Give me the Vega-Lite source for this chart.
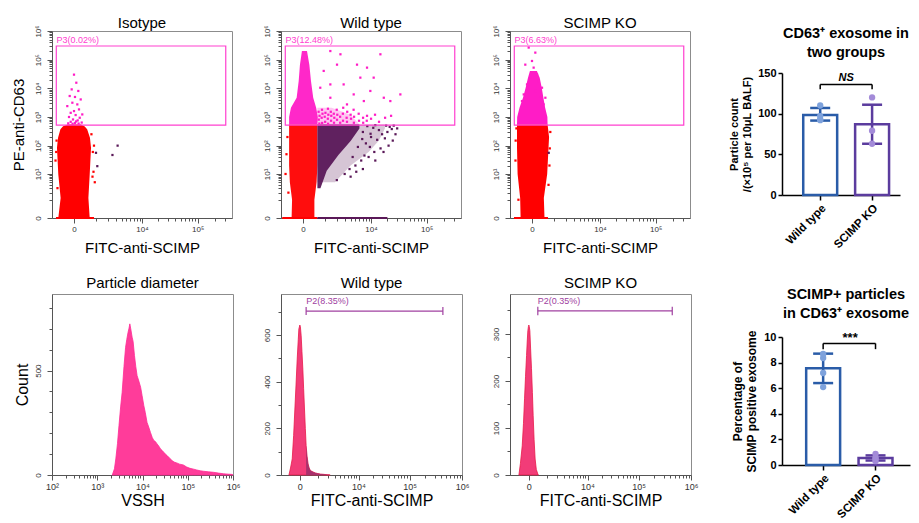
{
"$schema":"https://vega.github.io/schema/vega-lite/v6.json",
"padding":{"left":10,"top":15,"right":2,"bottom":2},
"config":{"font":"Liberation Sans","view":{"stroke":"#8c8c8c","strokeWidth":1},"axis":{"grid":false},"title":{"fontWeight":"normal","color":"#000"}},
"resolve":{"scale":{"color":"independent","fill":"independent","stroke":"independent"}},
"datasets":{
"iso_area":[
{"gate":"Neg","y":0,"x":-606,"x2":606},{"gate":"Neg","y":1.2,"x":-490,"x2":540},{"gate":"Neg","y":9.5,"x":-606,"x2":606},{"gate":"Neg","y":84,"x":-677,"x2":677},{"gate":"Neg","y":190,"x":-620,"x2":620},{"gate":"Neg","y":370,"x":-500,"x2":480},{"gate":"Neg","y":480,"x":-380,"x2":360},{"gate":"Neg","y":550,"x":-200,"x2":220}],
"iso_pts":[
{"gate":"P3","x":0,"y":30000},{"gate":"P3","x":67,"y":15700},{"gate":"P3","x":-67,"y":9200},{"gate":"P3","x":130,"y":8100},{"gate":"P3","x":-130,"y":5400},{"gate":"P3","x":28,"y":5000},{"gate":"P3","x":213,"y":4100},{"gate":"P3","x":-47,"y":3150},{"gate":"P3","x":98,"y":2750},{"gate":"P3","x":-213,"y":2400},{"gate":"P3","x":153,"y":1840},{"gate":"P3","x":0,"y":1610},{"gate":"P3","x":-98,"y":1400},{"gate":"P3","x":272,"y":1230},{"gate":"P3","x":47,"y":1170},{"gate":"P3","x":-153,"y":1000},{"gate":"P3","x":178,"y":940},{"gate":"P3","x":-28,"y":820},{"gate":"P3","x":110,"y":760},{"gate":"P3","x":-98,"y":680},{"gate":"P3","x":250,"y":640},{"gate":"P3","x":28,"y":620},{"gate":"P3","x":60,"y":700},{"gate":"P3","x":-40,"y":580},{"gate":"P3","x":140,"y":590},{"gate":"P3","x":-180,"y":600},
{"gate":"Q","x":3300,"y":100},{"gate":"Q","x":2550,"y":47},{"gate":"Q","x":1070,"y":19},{"gate":"Q","x":980,"y":56},
{"gate":"Neg","x":-760,"y":30},{"gate":"Neg","x":780,"y":60},{"gate":"Neg","x":820,"y":12},{"gate":"Neg","x":-700,"y":150},{"gate":"Neg","x":700,"y":250},{"gate":"Neg","x":900,"y":5},{"gate":"Neg","x":-650,"y":3},{"gate":"Neg","x":850,"y":100},{"gate":"Neg","x":-720,"y":60},{"gate":"Neg","x":760,"y":8}],
"iso_base":[{"gate":"Neg","x":-733,"x2":853,"y":0}],
"gate3":[{"x":-715,"x2":313000,"y":520,"y2":300000}],
"iso_lab":[{"x":-700,"y":300000,"label":"P3(0.02%)"}],
"wt_halo":[
{"gate":"P3","y":550,"x":540,"x2":6000},{"gate":"P3","y":1200,"x":540,"x2":4000},{"gate":"P3","y":2100,"x":540,"x2":1500},
{"gate":"Q","y":5,"x":540,"x2":1800},{"gate":"Q","y":20,"x":540,"x2":4000},{"gate":"Q","y":60,"x":540,"x2":9000},{"gate":"Q","y":150,"x":540,"x2":14000},{"gate":"Q","y":400,"x":540,"x2":18000},{"gate":"Q","y":550,"x":540,"x2":18000}],
"wt_area":[
{"gate":"Neg","y":0,"x":-400,"x2":400},{"gate":"Neg","y":1,"x":-380,"x2":400},{"gate":"Neg","y":5,"x":-480,"x2":500},{"gate":"Neg","y":20,"x":-515,"x2":540},{"gate":"Neg","y":550,"x":-515,"x2":540},
{"gate":"P3","y":550,"x":-515,"x2":540},{"gate":"P3","y":1000,"x":-515,"x2":560},{"gate":"P3","y":2100,"x":-430,"x2":480},{"gate":"P3","y":4700,"x":-200,"x2":350},{"gate":"P3","y":18000,"x":-130,"x2":260},{"gate":"P3","y":67000,"x":-90,"x2":200},{"gate":"P3","y":200000,"x":-30,"x2":120},
{"gate":"Q","y":3,"x":540,"x2":700},{"gate":"Q","y":13,"x":540,"x2":1100},{"gate":"Q","y":48,"x":540,"x2":2200},{"gate":"Q","y":144,"x":540,"x2":4000},{"gate":"Q","y":400,"x":540,"x2":6000},{"gate":"Q","y":550,"x":540,"x2":6000}],
"wt_pts":[
{"gate":"P3","x":640,"y":590},{"gate":"P3","x":610,"y":810},{"gate":"P3","x":650,"y":1100},{"gate":"P3","x":600,"y":1520},{"gate":"P3","x":800,"y":620},{"gate":"P3","x":770,"y":940},{"gate":"P3","x":820,"y":1300},{"gate":"P3","x":790,"y":1790},{"gate":"P3","x":990,"y":680},{"gate":"P3","x":960,"y":1020},{"gate":"P3","x":1010,"y":1400},{"gate":"P3","x":1200,"y":580},{"gate":"P3","x":1180,"y":870},{"gate":"P3","x":1220,"y":1200},{"gate":"P3","x":1190,"y":1940},{"gate":"P3","x":1440,"y":740},{"gate":"P3","x":1460,"y":1100},{"gate":"P3","x":1420,"y":1520},{"gate":"P3","x":1710,"y":630},{"gate":"P3","x":1740,"y":940},{"gate":"P3","x":1690,"y":1300},{"gate":"P3","x":2020,"y":800},{"gate":"P3","x":2050,"y":1200},{"gate":"P3","x":1990,"y":1790},{"gate":"P3","x":2390,"y":630},{"gate":"P3","x":2380,"y":1020},{"gate":"P3","x":2760,"y":740},{"gate":"P3","x":2740,"y":1300},{"gate":"P3","x":2790,"y":2100},{"gate":"P3","x":3360,"y":680},{"gate":"P3","x":3300,"y":940},{"gate":"P3","x":3400,"y":1520},{"gate":"P3","x":4080,"y":870},{"gate":"P3","x":4000,"y":1200},{"gate":"P3","x":4660,"y":630},{"gate":"P3","x":4700,"y":1020},{"gate":"P3","x":4600,"y":1790},{"gate":"P3","x":5890,"y":740},{"gate":"P3","x":5800,"y":1300},{"gate":"P3","x":7060,"y":940},{"gate":"P3","x":7100,"y":630},{"gate":"P3","x":8400,"y":1100},{"gate":"P3","x":8300,"y":740},{"gate":"P3","x":10000,"y":870},{"gate":"P3","x":11860,"y":1200},{"gate":"P3","x":14060,"y":680},{"gate":"P3","x":18150,"y":940},{"gate":"P3","x":23300,"y":1100},
{"gate":"P3","x":1380,"y":4700},{"gate":"P3","x":2850,"y":13700},{"gate":"P3","x":6250,"y":23600},{"gate":"P3","x":9700,"y":8100},{"gate":"P3","x":17200,"y":4700},{"gate":"P3","x":3360,"y":2750},{"gate":"P3","x":895,"y":40500},{"gate":"P3","x":2020,"y":67000},{"gate":"P3","x":14900,"y":154000},{"gate":"P3","x":11200,"y":23600},{"gate":"P3","x":4620,"y":6140},{"gate":"P3","x":1380,"y":13700},{"gate":"P3","x":22600,"y":3600},{"gate":"P3","x":34200,"y":6140},{"gate":"P3","x":7300,"y":3600},{"gate":"P3","x":2420,"y":154000},{"gate":"P3","x":1380,"y":200000},{"gate":"P3","x":5380,"y":67000},{"gate":"P3","x":690,"y":10500},{"gate":"P3","x":8400,"y":52700},
{"gate":"Q","x":20000,"y":300},{"gate":"Q","x":25000,"y":150},{"gate":"Q","x":15000,"y":80},{"gate":"Q","x":9000,"y":40},{"gate":"Q","x":5000,"y":20},{"gate":"Q","x":3000,"y":10},{"gate":"Q","x":22000,"y":450},{"gate":"Q","x":28000,"y":250},{"gate":"Q","x":12000,"y":30},{"gate":"Q","x":7000,"y":15},{"gate":"Q","x":2000,"y":6},{"gate":"Q","x":4000,"y":8},{"gate":"Q","x":17000,"y":60},{"gate":"Q","x":30000,"y":400},{"gate":"Q","x":10000,"y":200},{"gate":"Q","x":14000,"y":350},{"gate":"Q","x":8000,"y":120},{"gate":"Q","x":19000,"y":500},{"gate":"Q","x":11000,"y":420},{"gate":"Q","x":13000,"y":160},{"gate":"Q","x":16000,"y":250},{"gate":"Q","x":12000,"y":520},{"gate":"Q","x":9500,"y":90},{"gate":"Q","x":7500,"y":45},{"gate":"Q","x":6500,"y":30},{"gate":"Q","x":24000,"y":380},{"gate":"Q","x":18000,"y":180},{"gate":"Q","x":21000,"y":100},{"gate":"Q","x":5200,"y":12},{"gate":"Q","x":3800,"y":15},{"gate":"Q","x":11500,"y":60},{"gate":"Q","x":26000,"y":500},{"gate":"Q","x":7000,"y":300},{"gate":"Q","x":8500,"y":480},{"gate":"Q","x":9800,"y":260},{"gate":"Q","x":6800,"y":170},{"gate":"Q","x":5600,"y":90},{"gate":"Q","x":4400,"y":40},
{"gate":"Neg","x":-650,"y":50},{"gate":"Neg","x":-600,"y":200},{"gate":"Neg","x":-700,"y":10},{"gate":"Neg","x":-550,"y":2}],
"wt_base":[{"gate":"Neg","x":-900,"x2":540,"y":0},{"gate":"Q","x":540,"x2":20000,"y":0}],
"wt_lab":[{"x":-700,"y":300000,"label":"P3(12.48%)"}],
"ko_area":[
{"gate":"Neg","y":0,"x":-400,"x2":450},{"gate":"Neg","y":1.2,"x":-420,"x2":420},{"gate":"Neg","y":10,"x":-540,"x2":580},{"gate":"Neg","y":84,"x":-570,"x2":650},{"gate":"Neg","y":200,"x":-570,"x2":680},{"gate":"Neg","y":550,"x":-570,"x2":600},
{"gate":"P3","y":550,"x":-570,"x2":600},{"gate":"P3","y":1000,"x":-560,"x2":590},{"gate":"P3","y":2100,"x":-450,"x2":480},{"gate":"P3","y":4700,"x":-300,"x2":400},{"gate":"P3","y":10500,"x":-200,"x2":330},{"gate":"P3","y":23600,"x":-120,"x2":250},{"gate":"P3","y":40000,"x":-60,"x2":150}],
"ko_pts":[
{"gate":"P3","x":-98,"y":264000},{"gate":"P3","x":98,"y":176000},{"gate":"P3","x":-213,"y":67000},{"gate":"P3","x":47,"y":52700},{"gate":"P3","x":-47,"y":23600},{"gate":"P3","x":213,"y":18000},{"gate":"P3","x":-153,"y":13700},{"gate":"P3","x":98,"y":8100},{"gate":"P3","x":272,"y":4700},{"gate":"P3","x":-272,"y":6140},{"gate":"P3","x":410,"y":2750},{"gate":"P3","x":0,"y":90000},{"gate":"P3","x":153,"y":30700},{"gate":"P3","x":-341,"y":3600},{"gate":"P3","x":490,"y":4700},{"gate":"P3","x":341,"y":10500},
{"gate":"Q","x":660,"y":56},
{"gate":"Neg","x":-650,"y":30},{"gate":"Neg","x":720,"y":80},{"gate":"Neg","x":-640,"y":150},{"gate":"Neg","x":700,"y":20},{"gate":"Neg","x":750,"y":300},{"gate":"Neg","x":-600,"y":400},{"gate":"Neg","x":650,"y":4},{"gate":"Neg","x":-500,"y":1}],
"ko_base":[{"gate":"Neg","x":-733,"x2":623,"y":0}],
"ko_lab":[{"x":-700,"y":300000,"label":"P3(6.63%)"}],
"h5":[
{"x":2150,"n":0},{"x":2400,"n":30},{"x":2570,"n":77},{"x":2800,"n":150},{"x":3020,"n":236},{"x":3300,"n":330},{"x":3550,"n":396},{"x":3900,"n":520},{"x":4230,"n":612},{"x":4500,"n":650},{"x":4800,"n":684},{"x":5000,"n":700},{"x":5250,"n":724},{"x":5500,"n":700},{"x":5900,"n":660},{"x":6200,"n":640},{"x":6650,"n":572},{"x":7100,"n":520},{"x":7600,"n":476},{"x":8300,"n":450},{"x":9100,"n":420},{"x":9800,"n":380},{"x":10700,"n":332},{"x":11500,"n":300},{"x":12600,"n":252},{"x":13700,"n":230},{"x":15000,"n":204},{"x":16400,"n":180},{"x":17800,"n":165},{"x":19300,"n":160},{"x":21000,"n":149},{"x":23000,"n":138},{"x":25000,"n":125},{"x":27000,"n":118},{"x":29500,"n":109},{"x":32000,"n":100},{"x":35000,"n":93},{"x":40000,"n":80},{"x":45000,"n":69},{"x":50000,"n":62},{"x":57000,"n":58},{"x":66000,"n":52},{"x":80000,"n":48},{"x":95000,"n":38},{"x":112000,"n":32},{"x":135000,"n":28},{"x":158000,"n":24},{"x":190000,"n":20},{"x":222000,"n":18},{"x":290000,"n":15},{"x":370000,"n":13},{"x":480000,"n":9},{"x":615000,"n":6},{"x":780000,"n":4},{"x":940000,"n":3},{"x":1000000,"n":0}],
"h6":[
{"x":-510,"n":0},{"x":-420,"n":30},{"x":-330,"n":69},{"x":-260,"n":170},{"x":-202,"n":283},{"x":-150,"n":390},{"x":-102,"n":497},{"x":-60,"n":580},{"x":-37,"n":626},{"x":0,"n":643},{"x":20,"n":635},{"x":49,"n":597},{"x":80,"n":530},{"x":116,"n":454},{"x":150,"n":370},{"x":187,"n":283},{"x":225,"n":200},{"x":263,"n":126},{"x":310,"n":80},{"x":363,"n":47},{"x":420,"n":30},{"x":491,"n":19},{"x":650,"n":13},{"x":813,"n":9},{"x":1000,"n":6},{"x":1212,"n":4},{"x":1500,"n":3},{"x":1900,"n":1},{"x":2300,"n":0}],
"h6tail":[
{"x":263,"n":126},{"x":310,"n":80},{"x":363,"n":47},{"x":420,"n":30},{"x":491,"n":19},{"x":650,"n":13},{"x":813,"n":9},{"x":1000,"n":6},{"x":1212,"n":4},{"x":1500,"n":3},{"x":1900,"n":1},{"x":2300,"n":0}],
"h7":[
{"x":-454,"n":0},{"x":-370,"n":25},{"x":-280,"n":62},{"x":-220,"n":110},{"x":-173,"n":162},{"x":-130,"n":210},{"x":-88,"n":254},{"x":-60,"n":285},{"x":-37,"n":307},{"x":-15,"n":316},{"x":0,"n":319},{"x":15,"n":316},{"x":37,"n":307},{"x":65,"n":270},{"x":102,"n":226},{"x":140,"n":175},{"x":173,"n":126},{"x":215,"n":75},{"x":263,"n":34},{"x":320,"n":12},{"x":399,"n":2},{"x":430,"n":0}],
"g6h":[{"x":263,"x2":433000,"n":703}],
"g6c":[{"x":263,"n":686,"n2":720},{"x":433000,"n":686,"n2":720}],
"g6l":[{"x":263,"n":703,"label":"P2(8.35%)"}],
"g7h":[{"x":400,"x2":440000,"n":349}],
"g7c":[{"x":400,"n":340,"n2":358},{"x":440000,"n":340,"n2":358}],
"g7l":[{"x":400,"n":349,"label":"P2(0.35%)"}],
"bar1":[{"group":"Wild type","mean":98.5,"lo":91.5,"hi":107},{"group":"SCIMP KO","mean":87,"lo":63,"hi":111}],
"pts1":[{"group":"Wild type","v":93},{"group":"Wild type","v":110},{"group":"Wild type","v":97},{"group":"Wild type","v":92},{"group":"SCIMP KO","v":120},{"group":"SCIMP KO","v":79},{"group":"SCIMP KO","v":63}],
"sig1":[{"group":"Wild type","group2":"SCIMP KO","y":136,"label":"NS"}],
"drop1":[{"group":"Wild type","y":130,"y2":136},{"group":"SCIMP KO","y":130,"y2":136}],
"bar2":[{"group":"Wild type","mean":7.55,"lo":6.4,"hi":8.7},{"group":"SCIMP KO","mean":0.55,"lo":0.35,"hi":0.75}],
"pts2":[{"group":"Wild type","v":8.36},{"group":"Wild type","v":8.67},{"group":"Wild type","v":7.19},{"group":"Wild type","v":6.09},{"group":"SCIMP KO","v":0.86},{"group":"SCIMP KO","v":0.3},{"group":"SCIMP KO","v":0.55},{"group":"SCIMP KO","v":0.47}],
"sig2":[{"group":"Wild type","group2":"SCIMP KO","y":9.5,"label":"***"}],
"drop2":[{"group":"Wild type","y":9.05,"y2":9.5},{"group":"SCIMP KO","y":9.05,"y2":9.5}],
"blank":[{"t":""}]
},
"spacing":29,
"hconcat":[
{"spacing":21,"hconcat":[
{"spacing":19,"vconcat":[
{"width":180,"height":187,
"title":{"text":"Isotype","fontSize":15,"offset":-6,"anchor":"middle"},
"encoding":{
"x":{"field":"x","type":"quantitative","scale":{"type":"symlog","constant":685,"domain":[-980,403000],"nice":false},"axis":{"title":"FITC-anti-SCIMP","titleFontSize":15,"titleFontWeight":"normal","titleColor":"#000","titlePadding":7,"values":[0,1000,2000,3000,4000,5000,6000,7000,8000,9000,10000,20000,30000,40000,50000,60000,70000,80000,90000,100000,200000,300000],"labelExpr":"datum.value === 0 ? '0' : datum.value === 10000 ? '10⁴' : datum.value === 100000 ? '10⁵' : ''","labelFontSize":8,"labelColor":"#333","labelFlush":false,"labelOverlap":false,"labelPadding":2,"tickSize":{"condition":{"test":"indexof([0,10000,100000], datum.value) >= 0","value":5},"value":3},"tickColor":"#555","domainColor":"#555"}},
"y":{"field":"y","type":"quantitative","scale":{"type":"symlog","constant":0.3,"domain":[0,1000000],"nice":false},"axis":{"title":"PE-anti-CD63","titleFontSize":15,"titleFontWeight":"normal","titleColor":"#000","titlePadding":8,"values":[0,1,2,3,4,5,6,7,8,9,10,20,30,40,50,60,70,80,90,100,200,300,400,500,600,700,800,900,1000,2000,3000,4000,5000,6000,7000,8000,9000,10000,20000,30000,40000,50000,60000,70000,80000,90000,100000,200000,300000,400000,500000,600000,700000,800000,900000,1000000],"labelExpr":"datum.value === 0 ? '0' : datum.value === 10 ? '10¹' : datum.value === 100 ? '10²' : datum.value === 1000 ? '10³' : datum.value === 10000 ? '10⁴' : datum.value === 100000 ? '10⁵' : datum.value === 1000000 ? '10⁶' : ''","labelAngle":-90,"labelFontSize":8,"labelColor":"#333","labelFlush":false,"labelOverlap":false,"labelPadding":5,"tickSize":{"condition":{"test":"indexof([0,10,100,1000,10000,100000,1000000], datum.value) >= 0","value":5},"value":3},"tickColor":"#555","domainColor":"#555"}}
},
"layer":[
{"data":{"name":"iso_area"},"mark":{"type":"area","orient":"horizontal"},"encoding":{"x2":{"field":"x2"},"color":{"field":"gate","type":"nominal","scale":{"domain":["Neg","P3","Q"],"range":["#FF0000","#FF1CC6","#5A1858"]},"legend":null}}},
{"data":{"name":"iso_pts"},"mark":{"type":"square","size":5,"opacity":1},"encoding":{"color":{"field":"gate","type":"nominal","scale":{"domain":["Neg","P3","Q"],"range":["#FF0000","#FF1CC6","#5A1858"]},"legend":null}}},
{"data":{"name":"iso_base"},"mark":{"type":"rule","strokeWidth":2},"encoding":{"x2":{"field":"x2"},"color":{"field":"gate","type":"nominal","scale":{"domain":["Neg","P3","Q"],"range":["#FF0000","#FF1CC6","#5A1858"]},"legend":null}}},
{"data":{"name":"gate3"},"mark":{"type":"rect","filled":false,"color":"#FF40D0","strokeWidth":1.2},"encoding":{"x2":{"field":"x2"},"y2":{"field":"y2"}}},
{"data":{"name":"iso_lab"},"mark":{"type":"text","align":"left","baseline":"bottom","dy":-0.5,"fontSize":9,"color":"#FF40D0"},"encoding":{"text":{"field":"label"}}}
]},
{"width":181,"height":181,
"title":{"text":"Particle diameter","fontSize":15,"offset":3,"anchor":"middle"},
"encoding":{
"x":{"field":"x","type":"quantitative","scale":{"type":"log","domain":[100,1000000],"nice":false},"axis":{"title":"VSSH","titleFontSize":16,"titleFontWeight":"normal","titleColor":"#000","titlePadding":1,"values":[100,200,300,400,500,600,700,800,900,1000,2000,3000,4000,5000,6000,7000,8000,9000,10000,20000,30000,40000,50000,60000,70000,80000,90000,100000,200000,300000,400000,500000,600000,700000,800000,900000,1000000],"labelExpr":"datum.value === 100 ? '10²' : datum.value === 1000 ? '10³' : datum.value === 10000 ? '10⁴' : datum.value === 100000 ? '10⁵' : datum.value === 1000000 ? '10⁶' : ''","labelFontSize":9,"labelColor":"#333","labelFlush":false,"labelOverlap":false,"labelPadding":2,"tickSize":{"condition":{"test":"indexof([100,1000,10000,100000,1000000], datum.value) >= 0","value":5},"value":3},"tickColor":"#555","domainColor":"#555"}},
"y":{"field":"n","type":"quantitative","scale":{"domain":[0,867],"nice":false},"axis":{"title":"Count","titleFontSize":16,"titleFontWeight":"normal","titleColor":"#000","titlePadding":4,"values":[0,100,200,300,400,500,600,700,800],"labelExpr":"datum.value === 0 ? '0' : datum.value === 500 ? '500' : ''","labelAngle":-90,"labelFontSize":8,"labelColor":"#333","labelFlush":false,"labelOverlap":false,"labelPadding":5,"tickSize":{"condition":{"test":"datum.value === 0 || datum.value === 500","value":5},"value":3},"tickColor":"#555","domainColor":"#555"}}
},
"layer":[
{"data":{"name":"h5"},"mark":{"type":"area","color":"#FF3C9A","stroke":"#FF2A94","strokeWidth":0.8}}
]}
]},
{"spacing":19,"vconcat":[
{"width":180,"height":187,
"title":{"text":"Wild type","fontSize":15,"offset":-6,"anchor":"middle"},
"encoding":{
"x":{"field":"x","type":"quantitative","scale":{"type":"symlog","constant":685,"domain":[-980,403000],"nice":false},"axis":{"title":"FITC-anti-SCIMP","titleFontSize":15,"titleFontWeight":"normal","titleColor":"#000","titlePadding":7,"values":[0,1000,2000,3000,4000,5000,6000,7000,8000,9000,10000,20000,30000,40000,50000,60000,70000,80000,90000,100000,200000,300000],"labelExpr":"datum.value === 0 ? '0' : datum.value === 10000 ? '10⁴' : datum.value === 100000 ? '10⁵' : ''","labelFontSize":8,"labelColor":"#333","labelFlush":false,"labelOverlap":false,"labelPadding":2,"tickSize":{"condition":{"test":"indexof([0,10000,100000], datum.value) >= 0","value":5},"value":3},"tickColor":"#555","domainColor":"#555"}},
"y":{"field":"y","type":"quantitative","scale":{"type":"symlog","constant":0.3,"domain":[0,1000000],"nice":false},"axis":{"title":null,"values":[0,1,2,3,4,5,6,7,8,9,10,20,30,40,50,60,70,80,90,100,200,300,400,500,600,700,800,900,1000,2000,3000,4000,5000,6000,7000,8000,9000,10000,20000,30000,40000,50000,60000,70000,80000,90000,100000,200000,300000,400000,500000,600000,700000,800000,900000,1000000],"labelExpr":"datum.value === 0 ? '0' : datum.value === 10 ? '10¹' : datum.value === 100 ? '10²' : datum.value === 1000 ? '10³' : datum.value === 10000 ? '10⁴' : datum.value === 100000 ? '10⁵' : datum.value === 1000000 ? '10⁶' : ''","labelAngle":-90,"labelFontSize":8,"labelColor":"#333","labelFlush":false,"labelOverlap":false,"labelPadding":5,"tickSize":{"condition":{"test":"indexof([0,10,100,1000,10000,100000,1000000], datum.value) >= 0","value":5},"value":3},"tickColor":"#555","domainColor":"#555"}}
},
"layer":[
{"data":{"name":"wt_halo"},"mark":{"type":"area","orient":"horizontal","opacity":0.25},"encoding":{"x2":{"field":"x2"},"color":{"field":"gate","type":"nominal","scale":{"domain":["Neg","P3","Q"],"range":["#FF0000","#FF1CC6","#5A1858"]},"legend":null}}},
{"data":{"name":"wt_area"},"mark":{"type":"area","orient":"horizontal","opacity":0.95},"encoding":{"x2":{"field":"x2"},"color":{"field":"gate","type":"nominal","scale":{"domain":["Neg","P3","Q"],"range":["#FF0000","#FF1CC6","#5A1858"]},"legend":null}}},
{"data":{"name":"wt_pts"},"mark":{"type":"square","size":5,"opacity":1},"encoding":{"color":{"field":"gate","type":"nominal","scale":{"domain":["Neg","P3","Q"],"range":["#FF0000","#FF1CC6","#5A1858"]},"legend":null}}},
{"data":{"name":"wt_base"},"mark":{"type":"rule","strokeWidth":2},"encoding":{"x2":{"field":"x2"},"color":{"field":"gate","type":"nominal","scale":{"domain":["Neg","P3","Q"],"range":["#FF0000","#FF1CC6","#5A1858"]},"legend":null}}},
{"data":{"name":"gate3"},"mark":{"type":"rect","filled":false,"color":"#FF40D0","strokeWidth":1.2},"encoding":{"x2":{"field":"x2"},"y2":{"field":"y2"}}},
{"data":{"name":"wt_lab"},"mark":{"type":"text","align":"left","baseline":"bottom","dy":-0.5,"fontSize":9,"color":"#FF40D0"},"encoding":{"text":{"field":"label"}}}
]},
{"width":181,"height":181,
"title":{"text":"Wild type","fontSize":15,"offset":3,"anchor":"middle"},
"encoding":{
"x":{"field":"x","type":"quantitative","scale":{"type":"symlog","constant":833,"domain":[-1067,1000000],"nice":false},"axis":{"title":"FITC-anti-SCIMP","titleFontSize":16,"titleFontWeight":"normal","titleColor":"#000","titlePadding":1,"values":[0,1000,2000,3000,4000,5000,6000,7000,8000,9000,10000,20000,30000,40000,50000,60000,70000,80000,90000,100000,200000,300000,400000,500000,600000,700000,800000,900000,1000000],"labelExpr":"datum.value === 0 ? '0' : datum.value === 10000 ? '10⁴' : datum.value === 100000 ? '10⁵' : datum.value === 1000000 ? '10⁶' : ''","labelFontSize":9,"labelColor":"#333","labelFlush":false,"labelOverlap":false,"labelPadding":2,"tickSize":{"condition":{"test":"indexof([0,10000,100000,1000000], datum.value) >= 0","value":5},"value":3},"tickColor":"#555","domainColor":"#555"}},
"y":{"field":"n","type":"quantitative","scale":{"domain":[0,776],"nice":false},"axis":{"title":null,"values":[0,100,200,300,400,500,600,700],"labelExpr":"datum.value % 200 === 0 ? format(datum.value, 'd') : ''","labelAngle":-90,"labelFontSize":8,"labelColor":"#333","labelFlush":false,"labelOverlap":false,"labelPadding":5,"tickSize":{"condition":{"test":"datum.value % 200 === 0","value":5},"value":3},"tickColor":"#555","domainColor":"#555"}}
},
"layer":[
{"data":{"name":"h6"},"mark":{"type":"area","color":"#F23C78","stroke":"#E8194A","strokeWidth":0.8}},
{"data":{"name":"h6tail"},"mark":{"type":"area","color":"#A8306C"}},
{"data":{"name":"g6h"},"mark":{"type":"rule","color":"#A040A0","strokeWidth":1.2},"encoding":{"x2":{"field":"x2"}}},
{"data":{"name":"g6c"},"mark":{"type":"rule","color":"#A040A0","strokeWidth":1.2},"encoding":{"y2":{"field":"n2"}}},
{"data":{"name":"g6l"},"mark":{"type":"text","align":"left","baseline":"bottom","dy":-5,"fontSize":9,"color":"#A040A0"},"encoding":{"text":{"field":"label"}}}
]}
]},
{"spacing":19,"vconcat":[
{"width":180,"height":187,
"title":{"text":"SCIMP KO","fontSize":15,"offset":-6,"anchor":"middle"},
"encoding":{
"x":{"field":"x","type":"quantitative","scale":{"type":"symlog","constant":685,"domain":[-980,403000],"nice":false},"axis":{"title":"FITC-anti-SCIMP","titleFontSize":15,"titleFontWeight":"normal","titleColor":"#000","titlePadding":7,"values":[0,1000,2000,3000,4000,5000,6000,7000,8000,9000,10000,20000,30000,40000,50000,60000,70000,80000,90000,100000,200000,300000],"labelExpr":"datum.value === 0 ? '0' : datum.value === 10000 ? '10⁴' : datum.value === 100000 ? '10⁵' : ''","labelFontSize":8,"labelColor":"#333","labelFlush":false,"labelOverlap":false,"labelPadding":2,"tickSize":{"condition":{"test":"indexof([0,10000,100000], datum.value) >= 0","value":5},"value":3},"tickColor":"#555","domainColor":"#555"}},
"y":{"field":"y","type":"quantitative","scale":{"type":"symlog","constant":0.3,"domain":[0,1000000],"nice":false},"axis":{"title":null,"values":[0,1,2,3,4,5,6,7,8,9,10,20,30,40,50,60,70,80,90,100,200,300,400,500,600,700,800,900,1000,2000,3000,4000,5000,6000,7000,8000,9000,10000,20000,30000,40000,50000,60000,70000,80000,90000,100000,200000,300000,400000,500000,600000,700000,800000,900000,1000000],"labelExpr":"datum.value === 0 ? '0' : datum.value === 10 ? '10¹' : datum.value === 100 ? '10²' : datum.value === 1000 ? '10³' : datum.value === 10000 ? '10⁴' : datum.value === 100000 ? '10⁵' : datum.value === 1000000 ? '10⁶' : ''","labelAngle":-90,"labelFontSize":8,"labelColor":"#333","labelFlush":false,"labelOverlap":false,"labelPadding":5,"tickSize":{"condition":{"test":"indexof([0,10,100,1000,10000,100000,1000000], datum.value) >= 0","value":5},"value":3},"tickColor":"#555","domainColor":"#555"}}
},
"layer":[
{"data":{"name":"ko_area"},"mark":{"type":"area","orient":"horizontal"},"encoding":{"x2":{"field":"x2"},"color":{"field":"gate","type":"nominal","scale":{"domain":["Neg","P3","Q"],"range":["#FF0000","#FF1CC6","#5A1858"]},"legend":null}}},
{"data":{"name":"ko_pts"},"mark":{"type":"square","size":5,"opacity":1},"encoding":{"color":{"field":"gate","type":"nominal","scale":{"domain":["Neg","P3","Q"],"range":["#FF0000","#FF1CC6","#5A1858"]},"legend":null}}},
{"data":{"name":"ko_base"},"mark":{"type":"rule","strokeWidth":2},"encoding":{"x2":{"field":"x2"},"color":{"field":"gate","type":"nominal","scale":{"domain":["Neg","P3","Q"],"range":["#FF0000","#FF1CC6","#5A1858"]},"legend":null}}},
{"data":{"name":"gate3"},"mark":{"type":"rect","filled":false,"color":"#FF40D0","strokeWidth":1.2},"encoding":{"x2":{"field":"x2"},"y2":{"field":"y2"}}},
{"data":{"name":"ko_lab"},"mark":{"type":"text","align":"left","baseline":"bottom","dy":-0.5,"fontSize":9,"color":"#FF40D0"},"encoding":{"text":{"field":"label"}}}
]},
{"width":181,"height":181,
"title":{"text":"SCIMP KO","fontSize":15,"offset":3,"anchor":"middle"},
"encoding":{
"x":{"field":"x","type":"quantitative","scale":{"type":"symlog","constant":833,"domain":[-1067,1000000],"nice":false},"axis":{"title":"FITC-anti-SCIMP","titleFontSize":16,"titleFontWeight":"normal","titleColor":"#000","titlePadding":1,"values":[0,1000,2000,3000,4000,5000,6000,7000,8000,9000,10000,20000,30000,40000,50000,60000,70000,80000,90000,100000,200000,300000,400000,500000,600000,700000,800000,900000,1000000],"labelExpr":"datum.value === 0 ? '0' : datum.value === 10000 ? '10⁴' : datum.value === 100000 ? '10⁵' : datum.value === 1000000 ? '10⁶' : ''","labelFontSize":9,"labelColor":"#333","labelFlush":false,"labelOverlap":false,"labelPadding":2,"tickSize":{"condition":{"test":"indexof([0,10000,100000,1000000], datum.value) >= 0","value":5},"value":3},"tickColor":"#555","domainColor":"#555"}},
"y":{"field":"n","type":"quantitative","scale":{"domain":[0,385],"nice":false},"axis":{"title":null,"values":[0,50,100,150,200,250,300,350],"labelExpr":"datum.value % 100 === 0 ? format(datum.value, 'd') : ''","labelAngle":-90,"labelFontSize":8,"labelColor":"#333","labelFlush":false,"labelOverlap":false,"labelPadding":5,"tickSize":{"condition":{"test":"datum.value % 100 === 0","value":5},"value":3},"tickColor":"#555","domainColor":"#555"}}
},
"layer":[
{"data":{"name":"h7"},"mark":{"type":"area","color":"#F23C78","stroke":"#E8194A","strokeWidth":0.8}},
{"data":{"name":"g7h"},"mark":{"type":"rule","color":"#A040A0","strokeWidth":1.2},"encoding":{"x2":{"field":"x2"}}},
{"data":{"name":"g7c"},"mark":{"type":"rule","color":"#A040A0","strokeWidth":1.2},"encoding":{"y2":{"field":"n2"}}},
{"data":{"name":"g7l"},"mark":{"type":"text","align":"left","baseline":"bottom","dy":-5,"fontSize":9,"color":"#A040A0"},"encoding":{"text":{"field":"label"}}}
]}
]}
]},
{"spacing":8,"vconcat":[
{"width":128,"height":1,"view":{"stroke":null},"data":{"name":"blank"},"mark":{"type":"text"},"encoding":{"text":{"field":"t"}},
"title":{"text":["CD63⁺ exosome in","two groups"],"orient":"bottom","fontSize":14.5,"fontWeight":"bold","lineHeight":19,"offset":-10,"anchor":"middle"}},
{"width":118,"height":122,"view":{"stroke":null},
"encoding":{
"x":{"field":"group","type":"nominal","sort":["Wild type","SCIMP KO"],"scale":{"paddingInner":0.346,"paddingOuter":0.31,"align":0.66},"axis":{"title":null,"domain":true,"ticks":true,"labelAngle":-45,"labelAlign":"right","labelFontSize":11.5,"labelFontWeight":"bold","labelColor":"#000","tickColor":"#000","domainColor":"#000","domainWidth":1.5,"tickWidth":1.5,"tickSize":5,"labelPadding":2}},
"y":{"field":"mean","type":"quantitative","scale":{"domain":[0,150],"nice":false},"axis":{"title":["Particle count","/(×10⁵ per 10μL BALF)"],"titleFontSize":11,"titleFontWeight":"bold","titleColor":"#000","titleLineHeight":13,"titlePadding":5,"values":[0,50,100,150],"labelFontSize":11,"labelFontWeight":"bold","labelColor":"#000","tickColor":"#000","domainColor":"#000","domainWidth":1.5,"tickWidth":1.5,"tickSize":4,"labelPadding":2}}
},
"layer":[
{"data":{"name":"bar1"},"mark":{"type":"bar","fill":"white","strokeWidth":2.5},"encoding":{"stroke":{"field":"group","type":"nominal","scale":{"domain":["Wild type","SCIMP KO"],"range":["#2A5CA8","#5B3C9E"]},"legend":null}}},
{"data":{"name":"bar1"},"mark":{"type":"rule","strokeWidth":2.5},"encoding":{"y":{"field":"lo","type":"quantitative","scale":{"domain":[0,150],"nice":false},"axis":{"title":["Particle count","/(×10⁵ per 10μL BALF)"],"titleFontSize":11,"titleFontWeight":"bold","titleColor":"#000","titleLineHeight":13,"titlePadding":5,"values":[0,50,100,150],"labelFontSize":11,"labelFontWeight":"bold","labelColor":"#000","tickColor":"#000","domainColor":"#000","domainWidth":1.5,"tickWidth":1.5,"tickSize":4,"labelPadding":2}},"y2":{"field":"hi"},"stroke":{"field":"group","type":"nominal","scale":{"domain":["Wild type","SCIMP KO"],"range":["#2A5CA8","#5B3C9E"]},"legend":null}}},
{"data":{"name":"bar1"},"mark":{"type":"tick","orient":"horizontal","size":20,"thickness":2.5,"opacity":1},"encoding":{"y":{"field":"lo","type":"quantitative","scale":{"domain":[0,150],"nice":false},"axis":{"title":["Particle count","/(×10⁵ per 10μL BALF)"],"titleFontSize":11,"titleFontWeight":"bold","titleColor":"#000","titleLineHeight":13,"titlePadding":5,"values":[0,50,100,150],"labelFontSize":11,"labelFontWeight":"bold","labelColor":"#000","tickColor":"#000","domainColor":"#000","domainWidth":1.5,"tickWidth":1.5,"tickSize":4,"labelPadding":2}},"color":{"field":"group","type":"nominal","scale":{"domain":["Wild type","SCIMP KO"],"range":["#2A5CA8","#5B3C9E"]},"legend":null}}},
{"data":{"name":"bar1"},"mark":{"type":"tick","orient":"horizontal","size":20,"thickness":2.5,"opacity":1},"encoding":{"y":{"field":"hi","type":"quantitative","scale":{"domain":[0,150],"nice":false},"axis":{"title":["Particle count","/(×10⁵ per 10μL BALF)"],"titleFontSize":11,"titleFontWeight":"bold","titleColor":"#000","titleLineHeight":13,"titlePadding":5,"values":[0,50,100,150],"labelFontSize":11,"labelFontWeight":"bold","labelColor":"#000","tickColor":"#000","domainColor":"#000","domainWidth":1.5,"tickWidth":1.5,"tickSize":4,"labelPadding":2}},"color":{"field":"group","type":"nominal","scale":{"domain":["Wild type","SCIMP KO"],"range":["#2A5CA8","#5B3C9E"]},"legend":null}}},
{"data":{"name":"pts1"},"mark":{"type":"circle","size":40,"opacity":1},"encoding":{"y":{"field":"v","type":"quantitative","scale":{"domain":[0,150],"nice":false},"axis":{"title":["Particle count","/(×10⁵ per 10μL BALF)"],"titleFontSize":11,"titleFontWeight":"bold","titleColor":"#000","titleLineHeight":13,"titlePadding":5,"values":[0,50,100,150],"labelFontSize":11,"labelFontWeight":"bold","labelColor":"#000","tickColor":"#000","domainColor":"#000","domainWidth":1.5,"tickWidth":1.5,"tickSize":4,"labelPadding":2}},"fill":{"field":"group","type":"nominal","scale":{"domain":["Wild type","SCIMP KO"],"range":["#7EA2DC","#A38BD8"]},"legend":null}}},
{"data":{"name":"sig1"},"mark":{"type":"rule","color":"#000","strokeWidth":1.5},"encoding":{"x2":{"field":"group2"},"y":{"field":"y","type":"quantitative","scale":{"domain":[0,150],"nice":false},"axis":{"title":["Particle count","/(×10⁵ per 10μL BALF)"],"titleFontSize":11,"titleFontWeight":"bold","titleColor":"#000","titleLineHeight":13,"titlePadding":5,"values":[0,50,100,150],"labelFontSize":11,"labelFontWeight":"bold","labelColor":"#000","tickColor":"#000","domainColor":"#000","domainWidth":1.5,"tickWidth":1.5,"tickSize":4,"labelPadding":2}}}},
{"data":{"name":"drop1"},"mark":{"type":"rule","color":"#000","strokeWidth":1.5},"encoding":{"y":{"field":"y","type":"quantitative","scale":{"domain":[0,150],"nice":false},"axis":{"title":["Particle count","/(×10⁵ per 10μL BALF)"],"titleFontSize":11,"titleFontWeight":"bold","titleColor":"#000","titleLineHeight":13,"titlePadding":5,"values":[0,50,100,150],"labelFontSize":11,"labelFontWeight":"bold","labelColor":"#000","tickColor":"#000","domainColor":"#000","domainWidth":1.5,"tickWidth":1.5,"tickSize":4,"labelPadding":2}},"y2":{"field":"y2"}}},
{"data":{"name":"sig1"},"mark":{"type":"text","dx":26,"dy":-1,"baseline":"bottom","fontSize":11,"fontStyle":"italic","fontWeight":"bold"},"encoding":{"y":{"field":"y","type":"quantitative","scale":{"domain":[0,150],"nice":false},"axis":{"title":["Particle count","/(×10⁵ per 10μL BALF)"],"titleFontSize":11,"titleFontWeight":"bold","titleColor":"#000","titleLineHeight":13,"titlePadding":5,"values":[0,50,100,150],"labelFontSize":11,"labelFontWeight":"bold","labelColor":"#000","tickColor":"#000","domainColor":"#000","domainWidth":1.5,"tickWidth":1.5,"tickSize":4,"labelPadding":2}},"text":{"field":"label"}}}
]},
{"width":128,"height":16,"view":{"stroke":null},"data":{"name":"blank"},"mark":{"type":"text"},"encoding":{"text":{"field":"t"}},
"title":{"text":["SCIMP+ particles","in CD63⁺ exosome"],"orient":"bottom","fontSize":14.5,"fontWeight":"bold","lineHeight":19,"offset":13,"anchor":"middle"}},
{"width":128,"height":128,"view":{"stroke":null},
"encoding":{
"x":{"field":"group","type":"nominal","sort":["Wild type","SCIMP KO"],"scale":{"paddingInner":0.352,"paddingOuter":0.398,"align":0.58},"axis":{"title":null,"domain":true,"ticks":true,"labelAngle":-45,"labelAlign":"right","labelFontSize":11.5,"labelFontWeight":"bold","labelColor":"#000","tickColor":"#000","domainColor":"#000","domainWidth":1.5,"tickWidth":1.5,"tickSize":5,"labelPadding":2}},
"y":{"field":"mean","type":"quantitative","scale":{"domain":[0,10],"nice":false},"axis":{"title":["Percentage of","SCIMP positive exosome"],"titleFontSize":12,"titleFontWeight":"bold","titleColor":"#000","titleLineHeight":14,"titlePadding":5,"values":[0,2,4,6,8,10],"labelFontSize":11,"labelFontWeight":"bold","labelColor":"#000","tickColor":"#000","domainColor":"#000","domainWidth":1.5,"tickWidth":1.5,"tickSize":4,"labelPadding":2}}
},
"layer":[
{"data":{"name":"bar2"},"mark":{"type":"bar","fill":"white","strokeWidth":2.5},"encoding":{"stroke":{"field":"group","type":"nominal","scale":{"domain":["Wild type","SCIMP KO"],"range":["#2A5CA8","#5B3C9E"]},"legend":null}}},
{"data":{"name":"bar2"},"mark":{"type":"rule","strokeWidth":2.5},"encoding":{"y":{"field":"lo","type":"quantitative","scale":{"domain":[0,10],"nice":false},"axis":{"title":["Percentage of","SCIMP positive exosome"],"titleFontSize":12,"titleFontWeight":"bold","titleColor":"#000","titleLineHeight":14,"titlePadding":5,"values":[0,2,4,6,8,10],"labelFontSize":11,"labelFontWeight":"bold","labelColor":"#000","tickColor":"#000","domainColor":"#000","domainWidth":1.5,"tickWidth":1.5,"tickSize":4,"labelPadding":2}},"y2":{"field":"hi"},"stroke":{"field":"group","type":"nominal","scale":{"domain":["Wild type","SCIMP KO"],"range":["#2A5CA8","#5B3C9E"]},"legend":null}}},
{"data":{"name":"bar2"},"mark":{"type":"tick","orient":"horizontal","size":20,"thickness":2.5,"opacity":1},"encoding":{"y":{"field":"lo","type":"quantitative","scale":{"domain":[0,10],"nice":false},"axis":{"title":["Percentage of","SCIMP positive exosome"],"titleFontSize":12,"titleFontWeight":"bold","titleColor":"#000","titleLineHeight":14,"titlePadding":5,"values":[0,2,4,6,8,10],"labelFontSize":11,"labelFontWeight":"bold","labelColor":"#000","tickColor":"#000","domainColor":"#000","domainWidth":1.5,"tickWidth":1.5,"tickSize":4,"labelPadding":2}},"color":{"field":"group","type":"nominal","scale":{"domain":["Wild type","SCIMP KO"],"range":["#2A5CA8","#5B3C9E"]},"legend":null}}},
{"data":{"name":"bar2"},"mark":{"type":"tick","orient":"horizontal","size":20,"thickness":2.5,"opacity":1},"encoding":{"y":{"field":"hi","type":"quantitative","scale":{"domain":[0,10],"nice":false},"axis":{"title":["Percentage of","SCIMP positive exosome"],"titleFontSize":12,"titleFontWeight":"bold","titleColor":"#000","titleLineHeight":14,"titlePadding":5,"values":[0,2,4,6,8,10],"labelFontSize":11,"labelFontWeight":"bold","labelColor":"#000","tickColor":"#000","domainColor":"#000","domainWidth":1.5,"tickWidth":1.5,"tickSize":4,"labelPadding":2}},"color":{"field":"group","type":"nominal","scale":{"domain":["Wild type","SCIMP KO"],"range":["#2A5CA8","#5B3C9E"]},"legend":null}}},
{"data":{"name":"pts2"},"mark":{"type":"circle","size":40,"opacity":1},"encoding":{"y":{"field":"v","type":"quantitative","scale":{"domain":[0,10],"nice":false},"axis":{"title":["Percentage of","SCIMP positive exosome"],"titleFontSize":12,"titleFontWeight":"bold","titleColor":"#000","titleLineHeight":14,"titlePadding":5,"values":[0,2,4,6,8,10],"labelFontSize":11,"labelFontWeight":"bold","labelColor":"#000","tickColor":"#000","domainColor":"#000","domainWidth":1.5,"tickWidth":1.5,"tickSize":4,"labelPadding":2}},"fill":{"field":"group","type":"nominal","scale":{"domain":["Wild type","SCIMP KO"],"range":["#7EA2DC","#A38BD8"]},"legend":null}}},
{"data":{"name":"sig2"},"mark":{"type":"rule","color":"#000","strokeWidth":1.5},"encoding":{"x2":{"field":"group2"},"y":{"field":"y","type":"quantitative","scale":{"domain":[0,10],"nice":false},"axis":{"title":["Percentage of","SCIMP positive exosome"],"titleFontSize":12,"titleFontWeight":"bold","titleColor":"#000","titleLineHeight":14,"titlePadding":5,"values":[0,2,4,6,8,10],"labelFontSize":11,"labelFontWeight":"bold","labelColor":"#000","tickColor":"#000","domainColor":"#000","domainWidth":1.5,"tickWidth":1.5,"tickSize":4,"labelPadding":2}}}},
{"data":{"name":"drop2"},"mark":{"type":"rule","color":"#000","strokeWidth":1.5},"encoding":{"y":{"field":"y","type":"quantitative","scale":{"domain":[0,10],"nice":false},"axis":{"title":["Percentage of","SCIMP positive exosome"],"titleFontSize":12,"titleFontWeight":"bold","titleColor":"#000","titleLineHeight":14,"titlePadding":5,"values":[0,2,4,6,8,10],"labelFontSize":11,"labelFontWeight":"bold","labelColor":"#000","tickColor":"#000","domainColor":"#000","domainWidth":1.5,"tickWidth":1.5,"tickSize":4,"labelPadding":2}},"y2":{"field":"y2"}}},
{"data":{"name":"sig2"},"mark":{"type":"text","dx":27,"dy":2,"baseline":"bottom","fontSize":13,"fontWeight":"bold"},"encoding":{"y":{"field":"y","type":"quantitative","scale":{"domain":[0,10],"nice":false},"axis":{"title":["Percentage of","SCIMP positive exosome"],"titleFontSize":12,"titleFontWeight":"bold","titleColor":"#000","titleLineHeight":14,"titlePadding":5,"values":[0,2,4,6,8,10],"labelFontSize":11,"labelFontWeight":"bold","labelColor":"#000","tickColor":"#000","domainColor":"#000","domainWidth":1.5,"tickWidth":1.5,"tickSize":4,"labelPadding":2}},"text":{"field":"label"}}}
]}
]}
]
}
